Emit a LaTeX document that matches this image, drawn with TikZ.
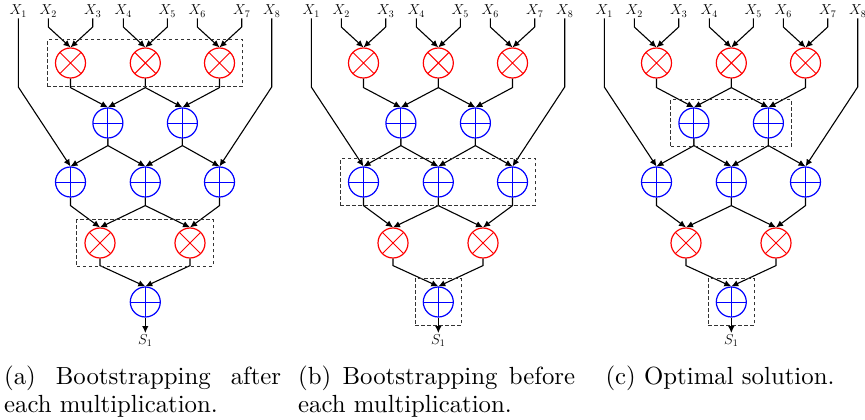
\documentclass[tikz,border=0pt]{standalone}
\usepackage{fontspec}
\newfontfamily\capfont{lmroman10-regular}[Extension=.otf]
\usetikzlibrary{arrows.meta,fit,calc}
\tikzset{
  xlab/.style={anchor=base,inner sep=1pt,font=\fontsize{14.4}{17}\selectfont},
  slab/.style={anchor=north,inner sep=1pt,font=\fontsize{14.4}{17}\selectfont},
  mulnode/.style={circle,draw=red,line width=1.2pt,minimum size=30pt,inner sep=0pt,
    path picture={\draw[red,line width=1pt]
      (path picture bounding box.north west) -- (path picture bounding box.south east)
      (path picture bounding box.north east) -- (path picture bounding box.south west);}},
  addnode/.style={circle,draw=blue,line width=1.2pt,minimum size=30pt,inner sep=0pt,
    path picture={\draw[blue,line width=1pt]
      (path picture bounding box.north) -- (path picture bounding box.south)
      (path picture bounding box.west) -- (path picture bounding box.east);}},
  conn/.style={draw,line width=1.1pt,-{Latex[length=7pt,width=6.5pt]}},
  dbox/.style={draw=black!80,dash pattern=on 3.5pt off 2.5pt,line width=0.9pt,inner sep=7.5pt},
  captxt/.style={anchor=north west,inner sep=0pt,text width=277pt,align=justify,
    font=\capfont\fontsize{24.8}{28}\selectfont}
}
\newcommand\drawtree[2]{%
\begin{scope}[xshift=#2]
  \foreach \i/\xx in {1/18.3,2/48.3,3/92.7,4/123.3,5/167.3,6/197.3,7/241.7,8/271.7}
    \node[xlab] (#1x\i) at (\xx,15) {$X_\i$};
  \node[mulnode] (#1m1) at (70.5,63) {};
  \node[mulnode] (#1m2) at (145.3,63) {};
  \node[mulnode] (#1m3) at (219.5,63) {};
  \node[addnode] (#1a1) at (107.9,123) {};
  \node[addnode] (#1a2) at (182.4,123) {};
  \node[addnode] (#1b1) at (70.5,182) {};
  \node[addnode] (#1b2) at (145.3,182) {};
  \node[addnode] (#1b3) at (219.5,182) {};
  \node[mulnode] (#1c1) at (100,243) {};
  \node[mulnode] (#1c2) at (190,243) {};
  \node[addnode] (#1f) at (145.3,302) {};
  \node[slab] (#1s) at (145.3,333) {$S_1$};
  % inputs to first multiplications
  \draw[conn] (#1x2.south) -- (#1x2.south |- 0,27) -- (#1m1.north);
  \draw[conn] (#1x3.south) -- (#1x3.south |- 0,27) -- (#1m1.north);
  \draw[conn] (#1x4.south) -- (#1x4.south |- 0,27) -- (#1m2.north);
  \draw[conn] (#1x5.south) -- (#1x5.south |- 0,27) -- (#1m2.north);
  \draw[conn] (#1x6.south) -- (#1x6.south |- 0,27) -- (#1m3.north);
  \draw[conn] (#1x7.south) -- (#1x7.south |- 0,27) -- (#1m3.north);
  % outer inputs
  \draw[conn] (#1x1.south) -- (#1x1.south |- 0,87) -- (#1b1.north);
  \draw[conn] (#1x8.south) -- (#1x8.south |- 0,87) -- (#1b3.north);
  % mult row 1 to add row 1
  \draw[conn] (#1m1.south) -- ++(0,9) -- (#1a1.north);
  \draw[conn] (#1m2.south) -- ++(0,9) -- (#1a1.north);
  \draw[conn] (#1m2.south) -- ++(0,9) -- (#1a2.north);
  \draw[conn] (#1m3.south) -- ++(0,9) -- (#1a2.north);
  % add row 1 to add row 2
  \draw[conn] (#1a1.south) -- ++(0,7) -- (#1b1.north);
  \draw[conn] (#1a1.south) -- ++(0,7) -- (#1b2.north);
  \draw[conn] (#1a2.south) -- ++(0,7) -- (#1b2.north);
  \draw[conn] (#1a2.south) -- ++(0,7) -- (#1b3.north);
  % add row 2 to mult row 3
  \draw[conn] (#1b1.south) -- ++(0,8) -- (#1c1.north);
  \draw[conn] (#1b2.south) -- ++(0,8) -- (#1c1.north);
  \draw[conn] (#1b2.south) -- ++(0,8) -- (#1c2.north);
  \draw[conn] (#1b3.south) -- ++(0,8) -- (#1c2.north);
  % mult row 3 to final
  \draw[conn] (#1c1.south) -- ++(0,7) -- (#1f.north);
  \draw[conn] (#1c2.south) -- ++(0,7) -- (#1f.north);
  \draw[conn] (#1f.south) -- (#1s.north);
\end{scope}}
\begin{document}
\begin{tikzpicture}[x=1pt,y=-1pt]
  \useasboundingbox (0,0) rectangle (865,420);
  \drawtree{a}{0pt}
  \drawtree{b}{293pt}
  \drawtree{c}{586pt}
  % bootstrapping boxes
  \node[dbox,fit=(am1)(am3)] (abox1) {};
  \node[dbox,fit=(ac1)(ac2)] (abox2) {};
  \node[dbox,fit=(bb1)(bb3)] (bbox1) {};
  \node[dbox,fit=(bf)] (bbox2) {};
  \node[dbox,fit=(ca1)(ca2)] (cbox1) {};
  \node[dbox,fit=(cf)] (cbox2) {};
  % captions
  \node[captxt] (capa) at (4,366) {\hyphenpenalty=10000\relax (a) Bootstrapping after each multiplication.};
  \node[captxt] (capb) at (298,366) {\hyphenpenalty=10000\relax (b) Bootstrapping before each multiplication.};
  \node[anchor=north,inner sep=0pt,font=\capfont\fontsize{24.8}{28}\selectfont] (capc) at (720,366) {(c) Optimal solution.};
\end{tikzpicture}
\end{document}
